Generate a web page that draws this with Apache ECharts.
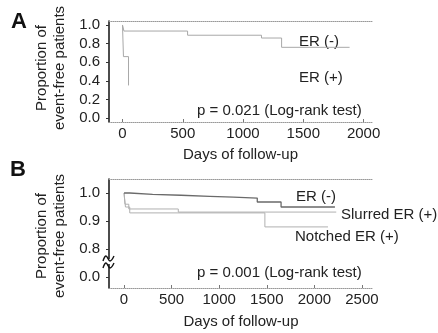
<!DOCTYPE html>
<html>
<head>
<meta charset="utf-8">
<script src="https://cdn.jsdelivr.net/npm/echarts@6/dist/echarts.min.js"></script>
<style>html,body{margin:0;padding:0;background:#fff}#c{width:438px;height:333px}</style>
</head>
<body>
<div id="c"></div>
<script>
// ---- Data ----
const xTicksA = [0, 500, 1000, 1500, 2000];
const yTicksA = [0, 0.2, 0.4, 0.6, 0.8, 1.0];
const xTicksB = [0, 500, 1000, 1500, 2000, 2500];
const yTicksB = [0.7, 0.8, 0.9, 1.0];   // 0.7 position carries the broken-axis "0.0" label
const yTickLabelsB = ['0.0', '0.8', '0.9', '1.0'];

// Panel A: Kaplan-Meier steps [day, proportion]
const erNegA = [[0, 1.0], [12, 0.935], [540, 0.89], [1153, 0.86], [1320, 0.76], [1884, 0.76]];
const erPosA = [[0, 1.0], [8, 0.66], [50, 0.35]];

// Panel B
const erNegB = [[0, 1.0], [60, 0.995], [300, 0.992], [600, 0.988], [900, 0.985], [1150, 0.982], [1400, 0.968], [1650, 0.95], [2216, 0.95]];
const slurredB = [[0, 1.0], [10, 0.96], [50, 0.943], [570, 0.932], [2230, 0.932]];
const notchedB = [[0, 1.0], [15, 0.95], [60, 0.929], [1480, 0.879], [2143, 0.879]];

const FONT = '"Liberation Sans", Arial, Helvetica, sans-serif';
const TXT = '#222';
const FS = 15;

const chart = echarts.init(document.getElementById('c'), null, {renderer: 'canvas'});

function bottomX(gridIndex, min, max, ticks, gap) {
  return {
    type: 'value', gridIndex, min, max, position: 'bottom',
    axisLine: {show: true, onZero: false, lineStyle: {color: '#999', type: 'dotted', width: 1}},
    axisTick: {show: true, customValues: ticks, inside: true, length: 3, lineStyle: {color: '#777'}},
    axisLabel: {customValues: ticks, margin: 4, fontSize: FS, color: TXT, fontFamily: FONT, formatter: v => String(v)},
    splitLine: {show: false},
    name: 'Days of follow-up', nameLocation: 'middle', nameGap: gap,
    nameTextStyle: {fontSize: FS, color: TXT, fontFamily: FONT}
  };
}
function topX(gridIndex, min, max) {
  return {
    type: 'value', gridIndex, min, max, position: 'top',
    axisLine: {show: true, onZero: false, lineStyle: {color: '#999', type: 'dotted', width: 1}},
    axisTick: {show: false}, axisLabel: {show: false}, splitLine: {show: false}
  };
}
function leftY(gridIndex, min, max, ticks, fmt) {
  return {
    type: 'value', gridIndex, min, max,
    axisLine: {show: true, onZero: false, lineStyle: {color: '#111', width: 1.5}},
    axisTick: {show: true, customValues: ticks, length: 3, lineStyle: {color: '#333'}},
    axisLabel: {customValues: ticks, margin: 9, fontSize: FS, color: TXT, fontFamily: FONT, formatter: fmt},
    splitLine: {show: false}
  };
}

function km(name, data, xi, yi, color, width) {
  return {
    name, type: 'line', step: 'end', data, xAxisIndex: xi, yAxisIndex: yi,
    symbol: 'none', lineStyle: {color, width}, silent: true, animation: false
  };
}

function txt(x, y, text, extra) {
  return {
    type: 'text', x, y,
    style: Object.assign({text, font: FS + 'px ' + FONT, fill: TXT, textAlign: 'left', textVerticalAlign: 'middle'}, extra || {})
  };
}

const option = {
  animation: false,
  backgroundColor: '#fff',
  grid: [
    {left: 109, right: 66, top: 21, bottom: 211},
    {left: 109, right: 65, top: 179, bottom: 45}
  ],
  xAxis: [
    bottomX(0, -112, 2070, xTicksA, 25),
    topX(0, -112, 2070),
    bottomX(1, -158, 2616, xTicksB, 26),
    topX(1, -158, 2616)
  ],
  yAxis: [
    leftY(0, -0.043, 1.043, yTicksA, v => v.toFixed(1)),
    leftY(1, 0.661, 1.05, yTicksB, v => yTickLabelsB[yTicksB.findIndex(t => Math.abs(t - v) < 1e-6)] || '')
  ],
  series: [
    km('ER (-) A', erNegA, 0, 0, '#a8a8a8', 1),
    km('ER (+) A', erPosA, 0, 0, '#a8a8a8', 1),
    km('Slurred ER (+)', slurredB, 2, 1, '#b0b0b0', 1),
    km('Notched ER (+)', notchedB, 2, 1, '#b0b0b0', 1),
    km('ER (-) B', erNegB, 2, 1, '#6a6a6a', 1.3)
  ],
  graphic: [
    txt(19, 22, 'A', {font: 'bold 22px ' + FONT, fill: '#111', textAlign: 'center'}),
    txt(18, 170, 'B', {font: 'bold 22px ' + FONT, fill: '#111', textAlign: 'center'}),
    {type: 'text', x: 51, y: 68, rotation: Math.PI / 2,
      style: {text: 'Proportion of\nevent-free patients', font: FS + 'px ' + FONT, fill: TXT, textAlign: 'center', textVerticalAlign: 'middle', lineHeight: 18}},
    {type: 'text', x: 51, y: 236, rotation: Math.PI / 2,
      style: {text: 'Proportion of\nevent-free patients', font: FS + 'px ' + FONT, fill: TXT, textAlign: 'center', textVerticalAlign: 'middle', lineHeight: 18}},
    txt(299, 42, 'ER (-)'),
    txt(299, 78, 'ER (+)'),
    txt(197, 111, 'p = 0.021 (Log-rank test)'),
    txt(296, 197, 'ER (-)'),
    txt(341, 215, 'Slurred ER (+)'),
    txt(295, 237, 'Notched ER (+)'),
    txt(197, 273, 'p = 0.001 (Log-rank test)'),
    // axis break marks
    {type: 'rect', shape: {x: 104, y: 259, width: 11, height: 5}, style: {fill: '#fff'}, z: 100},
    {type: 'polyline', shape: {points: [[103, 261], [106, 256], [110, 261], [114, 256]], smooth: 0.4}, style: {stroke: '#111', lineWidth: 1.4, fill: null}, z: 101},
    {type: 'polyline', shape: {points: [[103, 268], [106, 263], [110, 268], [114, 263]], smooth: 0.4}, style: {stroke: '#111', lineWidth: 1.4, fill: null}, z: 101}
  ]
};
chart.setOption(option);
</script>
</body>
</html>
